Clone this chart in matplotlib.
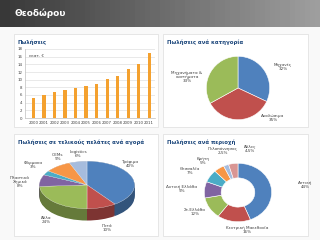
import numpy as np
import matplotlib
matplotlib.use("Agg")
import matplotlib.pyplot as plt
from matplotlib.patches import Rectangle
from matplotlib.colors import to_rgb

# Πωλήσεις (εκατ. €)
years = ['2000', '2001', '2002', '2003', '2004', '2005', '2006', '2007', '2008', '2009', '2010', '2011']
sales = [5.3, 6.0, 6.7, 7.4, 7.9, 8.3, 9.0, 10.3, 10.9, 12.9, 14.0, 17.0]

# Πωλήσεις ανά κατηγορία
cat_labels = ['Μηχανές\n32%', 'Αναλώσιμα\n35%', 'Μηχανήματα &\nσυστήματα\n33%']
cat_values = [32, 35, 33]

# Πωλήσεις ανά αγορά
market_labels = ['Τρόφιμα\n40%', 'Ποτά\n10%', 'Άλλα\n24%', 'Πλαστικά\nΧημικά\n8%',
                 'Φάρμακα\n3%', 'OEMs\n9%', 'Logistics\n6%']
market_values = [40, 10, 24, 8, 3, 9, 6]

# Πωλήσεις ανά περιοχή
region_labels = ['Αττική\n44%', 'Κεντρική Μακεδονία\n16%', 'Στ.Ελλάδα\n12%', 'Δυτική Ελλάδα\n9%',
                 'Θεσσαλία\n7%', 'Κρήτη\n5%', 'Πελοπόννησος\n2,5%', 'Άλλες\n4,5%']
region_values = [44, 16, 12, 9, 7, 5, 2.5, 4.5]

W, H = 320, 240
title_col = '#1F497D'
lab_col = '#404040'
pal = ['#4F81BD', '#C0504D', '#9BBB59', '#8064A2', '#4BACC6', '#F79646', '#A6BCDD', '#D99694']


def box(x, y, w, h):
    # pixel box (top-left origin) -> figure fraction
    return [x / W, 1 - (y + h) / H, w / W, h / H]


fig = plt.figure(figsize=(3.2, 2.4), dpi=100)
fig.patch.set_facecolor('#F9F9F9')

# banner
ax_b = fig.add_axes(box(0, 0, 320, 27))
grad = np.tile(np.linspace(0.22, 0.62, 64), (8, 1))
ax_b.imshow(grad, cmap='gray', vmin=0, vmax=1, aspect='auto', extent=[0, 1, 0, 1])
ax_b.text(0.045, 0.5, 'Θεοδώρου', color='white', fontsize=6.5, fontweight='bold',
          va='center', ha='left', transform=ax_b.transAxes)
ax_b.axis('off')

# panels
bg = fig.add_axes([0, 0, 1, 1], zorder=-1)
bg.set_xlim(0, W)
bg.set_ylim(H, 0)
bg.axis('off')
for (px, py, pw, ph) in [(14, 34, 144, 93), (163, 34, 145, 93), (14, 134, 144, 102), (163, 134, 145, 102)]:
    bg.add_patch(Rectangle((px, py), pw, ph, facecolor='white', edgecolor='#E2E2E2', lw=0.6))
titles = [(18, 42, 'Πωλήσεις'), (167, 42, 'Πωλήσεις ανά κατηγορία'),
          (18, 142, 'Πωλήσεις σε τελικούς πελάτες ανά αγορά'), (167, 142, 'Πωλήσεις ανά περιοχή')]
for tx, ty, t in titles:
    bg.text(tx, ty, t, color=title_col, fontsize=3.9, fontweight='bold', va='center', ha='left')

# bar chart
ax1 = fig.add_axes(box(25, 49, 130, 69))
x = np.arange(len(years))
ax1.bar(x, sales, width=0.3, color='#F4A12F', zorder=3)
ax1.set_ylim(0, 18)
ax1.set_yticks(range(0, 19, 2))
ax1.set_xlim(-0.8, len(years) - 0.45)
ax1.set_xticks(x)
ax1.set_xticklabels(years)
ax1.tick_params(labelsize=2.8, length=0, pad=2, colors=lab_col)
ax1.grid(axis='y', color='#D9D9D9', lw=0.4, zorder=0)
for s in ['top', 'right']:
    ax1.spines[s].set_visible(False)
for s in ['left', 'bottom']:
    ax1.spines[s].set_color('#BFBFBF')
    ax1.spines[s].set_linewidth(0.5)
ax1.text(0.03, 0.9, 'εκατ. €', transform=ax1.transAxes, fontsize=3, color=lab_col, va='center')

# pie by category
ax2 = fig.add_axes(box(206, 56, 64, 64))
ax2.pie(cat_values, colors=pal[:3], startangle=90, counterclock=False,
        wedgeprops=dict(edgecolor='white', linewidth=0.4))
ax2.set_xlim(-1.01, 1.01)
ax2.set_ylim(-1.01, 1.01)
for (lx, ly), t in zip([(283, 67), (273, 118), (187, 77)], cat_labels):
    bg.text(lx, ly, t, fontsize=3, color=lab_col, ha='center', va='center', linespacing=1.1)

# 3D-like pie by market
ax3 = fig.add_axes(box(39, 161, 96, 60))
dark = [tuple(c * 0.65 for c in to_rgb(col)) for col in pal[:7]]
for k in np.linspace(-0.5, 0, 14):
    ax3.pie(market_values, colors=dark, startangle=90, counterclock=False, center=(0, k))
ax3.pie(market_values, colors=pal[:7], startangle=90, counterclock=False, center=(0, 0),
        wedgeprops=dict(edgecolor='white', linewidth=0.2))
ax3.set_aspect('auto')
ax3.set_xlim(-1.01, 1.01)
ax3.set_ylim(-1.52, 1.01)
ax3.axis('off')
for (lx, ly), t in zip([(130, 164), (107, 228), (46, 220), (20, 182), (33, 165), (58, 157), (78, 154)],
                       market_labels):
    bg.text(lx, ly, t, fontsize=3, color=lab_col, ha='center', va='center', linespacing=1.1)

# donut by region
ax4 = fig.add_axes(box(204, 163, 68, 59))
ax4.pie(region_values, colors=pal, startangle=90, counterclock=False,
        wedgeprops=dict(width=0.5, edgecolor='white', linewidth=0.4))
ax4.set_aspect('auto')
ax4.set_xlim(-1.01, 1.01)
ax4.set_ylim(-1.01, 1.01)
for (lx, ly), t in zip([(305, 185), (247, 230), (195, 212), (182, 189), (190, 171), (203, 161),
                        (223, 151), (250, 149)], region_labels):
    bg.text(lx, ly, t, fontsize=3, color=lab_col, ha='center', va='center', linespacing=1.1)

fig.savefig('out.png', dpi=100, facecolor=fig.get_facecolor())
